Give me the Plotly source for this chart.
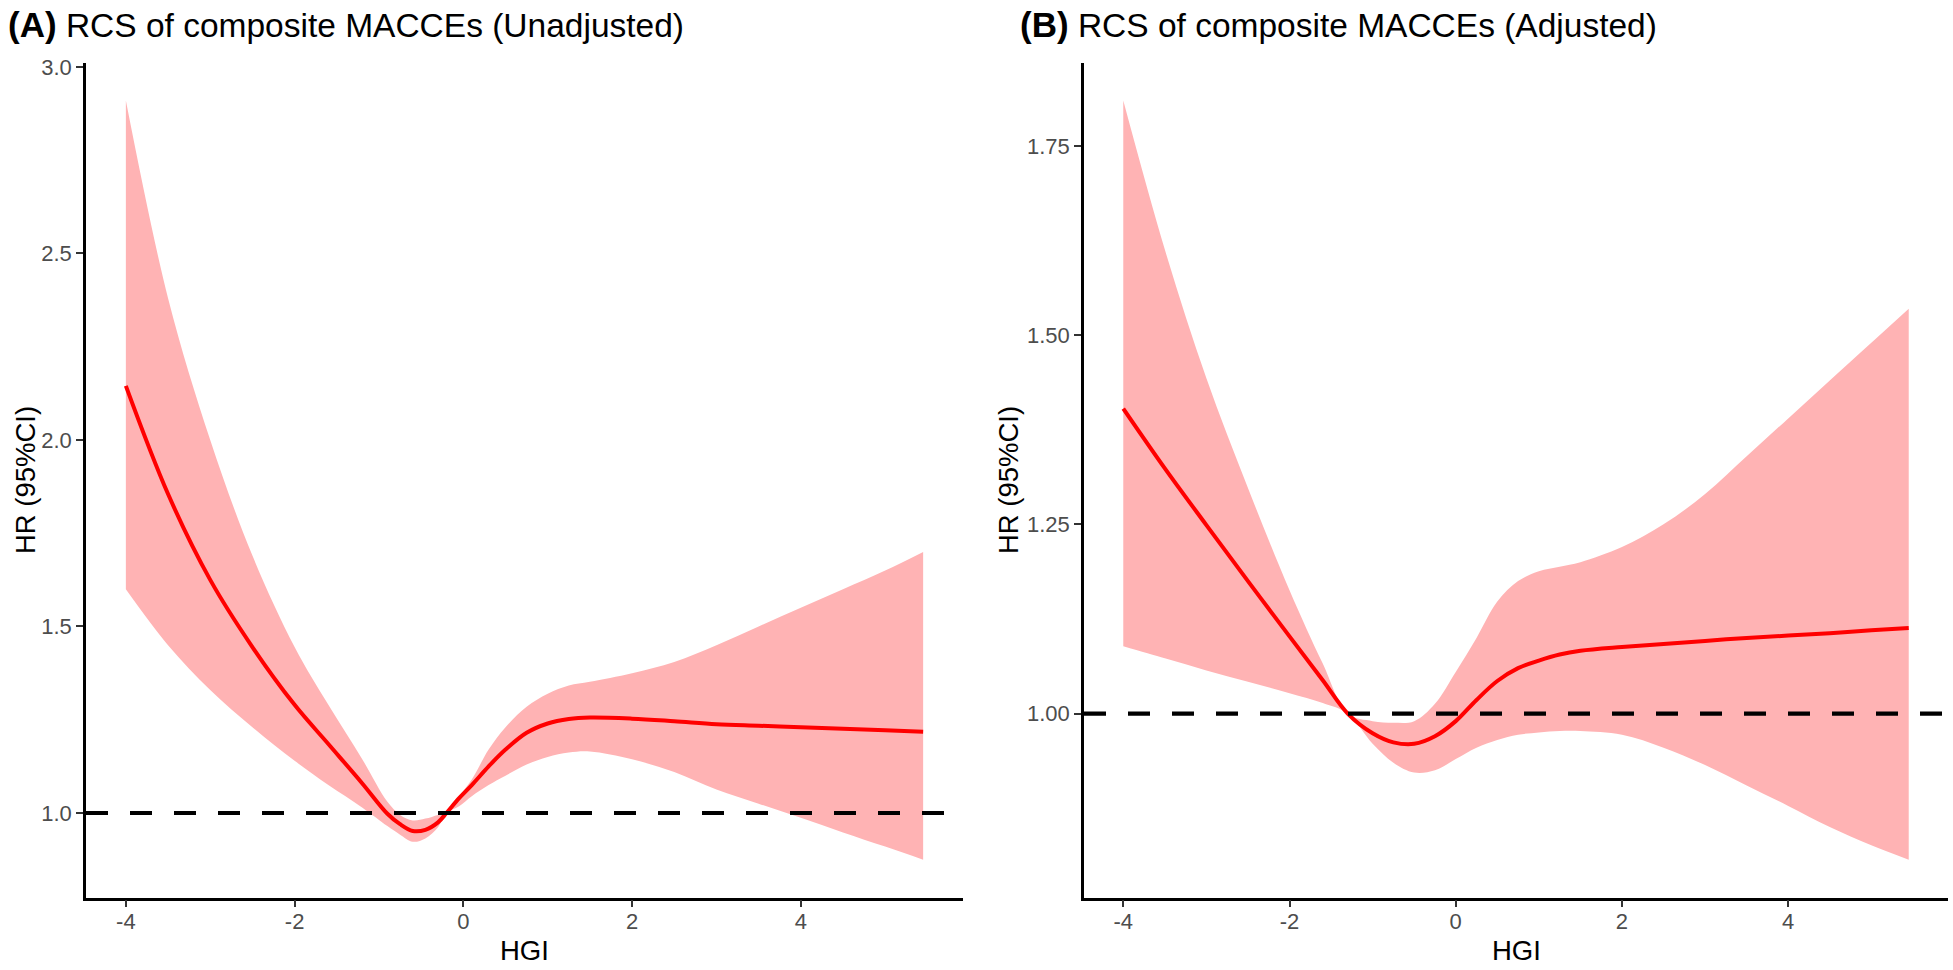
import plotly.graph_objects as go

# ---------------- data ----------------
hgi_a = [-4.0, -3.5, -3.0, -2.5, -2.0, -1.6, -1.2, -0.9, -0.75, -0.6, -0.45, -0.3, -0.2,
         -0.05, 0.1, 0.3, 0.5, 0.75, 1.0, 1.25, 1.5, 2.0, 2.5, 3.0, 3.5, 4.0, 4.5, 5.0, 5.45]
hr_a = [2.145, 1.855, 1.625, 1.445, 1.29, 1.185, 1.08, 0.998, 0.97, 0.952, 0.955, 0.975, 1.0,
        1.04, 1.075, 1.125, 1.17, 1.215, 1.24, 1.252, 1.256, 1.253, 1.246, 1.238, 1.234, 1.23,
        1.226, 1.222, 1.218]
upper_a = [2.91, 2.38, 2.00, 1.69, 1.445, 1.29, 1.145, 1.03, 0.995, 0.98, 0.985, 0.995, 1.0,
           1.045, 1.09, 1.17, 1.23, 1.285, 1.32, 1.342, 1.352, 1.375, 1.405, 1.45, 1.50, 1.55,
           1.60, 1.65, 1.70]
lower_a = [1.60, 1.45, 1.33, 1.23, 1.14, 1.075, 1.015, 0.965, 0.942, 0.923, 0.932, 0.962, 1.0,
           1.018, 1.045, 1.075, 1.10, 1.13, 1.15, 1.162, 1.165, 1.144, 1.11, 1.063, 1.025, 0.987,
           0.948, 0.91, 0.875]

hgi_b = [-4.0, -3.5, -3.0, -2.5, -2.0, -1.6, -1.3, -1.0, -0.75, -0.5, -0.25, 0.0, 0.25, 0.5,
         0.75, 1.0, 1.25, 1.5, 2.0, 2.5, 3.0, 3.5, 4.0, 4.5, 5.0, 5.45]
hr_b = [1.403, 1.324, 1.249, 1.175, 1.102, 1.044, 1.0, 0.974, 0.962, 0.96, 0.97, 0.99, 1.018,
        1.043, 1.06, 1.07, 1.078, 1.083, 1.088, 1.092, 1.096, 1.10, 1.103, 1.106, 1.11, 1.113]
upper_b = [1.81, 1.613, 1.443, 1.298, 1.163, 1.066, 1.0, 0.99, 0.988, 0.99, 1.013, 1.055, 1.10,
           1.148, 1.175, 1.188, 1.194, 1.20, 1.22, 1.25, 1.29, 1.34, 1.39, 1.44, 1.49, 1.535]
lower_b = [1.089, 1.073, 1.057, 1.042, 1.027, 1.014, 1.0, 0.96, 0.935, 0.922, 0.925, 0.94,
           0.955, 0.965, 0.972, 0.975, 0.977, 0.977, 0.972, 0.955, 0.932, 0.905, 0.878, 0.85,
           0.826, 0.807]

x_ticks = [-4, -2, 0, 2, 4]
x_tick_labels = ["-4", "-2", "0", "2", "4"]
y_ticks_a = [1.0, 1.5, 2.0, 2.5, 3.0]
y_ticks_b = [1.00, 1.25, 1.50, 1.75]
tags = ["(A)", "(B)"]
titles = ["RCS of composite MACCEs (Unadjusted)", "RCS of composite MACCEs (Adjusted)"]
x_title = "HGI"
y_title = "HR (95%CI)"
ref_hr = 1.0

# ---------------- styling ----------------
W, H = 1953, 970
FONT = "Liberation Sans, Arial, Helvetica, sans-serif"
RIBBON = "#FFB3B4"
LINE = "#FF0000"

fig = go.Figure()


def add_panel(xs, hr, lo, up, xa, ya):
    fig.add_trace(go.Scatter(x=xs, y=lo, mode="lines", line=dict(width=0, shape="spline", color=RIBBON),
                             xaxis=xa, yaxis=ya, hoverinfo="skip", showlegend=False))
    fig.add_trace(go.Scatter(x=xs, y=up, mode="lines", line=dict(width=0, shape="spline", color=RIBBON),
                             fill="tonexty", fillcolor=RIBBON, xaxis=xa, yaxis=ya,
                             hoverinfo="skip", showlegend=False))
    fig.add_trace(go.Scatter(x=xs, y=hr, mode="lines", line=dict(width=4, shape="spline", color=LINE),
                             xaxis=xa, yaxis=ya, showlegend=False))


add_panel(hgi_a, hr_a, lower_a, upper_a, "x", "y")
add_panel(hgi_b, hr_b, lower_b, upper_b, "x2", "y2")


def ggrange(vals_lo, vals_hi):
    lo, hi = min(vals_lo), max(vals_hi)
    pad = 0.05 * (hi - lo)
    return [lo - pad, hi + pad]


xr_a = ggrange(hgi_a, hgi_a)
xr_b = ggrange(hgi_b, hgi_b)
yr_a = ggrange(lower_a, upper_a)
yr_b = ggrange(lower_b, upper_b)

y_dom = [1 - 897 / H, 1 - 55 / H]
xd_a = [86 / W, 963 / W]
xd_b = [1084 / W, 1948 / W]

axis_common = dict(showline=True, linecolor="#000000", linewidth=2.6, ticks="outside",
                   ticklen=7, tickwidth=2.4, tickcolor="#333333", showgrid=False,
                   zeroline=False, tickfont=dict(family=FONT, size=22, color="#4D4D4D"))
xaxis_extra = dict(tickvals=x_ticks, ticktext=x_tick_labels, ticklabelstandoff=-5)

fig.update_layout(
    width=W, height=H, margin=dict(l=0, r=0, t=0, b=0),
    paper_bgcolor="white", plot_bgcolor="white", showlegend=False,
    font=dict(family=FONT),
    xaxis=dict(domain=xd_a, range=xr_a, anchor="y", **xaxis_extra, **axis_common),
    yaxis=dict(domain=y_dom, range=yr_a, tickvals=y_ticks_a, ticktext=[f"{v:.1f}" for v in y_ticks_a],
               anchor="x", **axis_common),
    xaxis2=dict(domain=xd_b, range=xr_b, anchor="y2", **xaxis_extra, **axis_common),
    yaxis2=dict(domain=y_dom, range=yr_b, tickvals=y_ticks_b, ticktext=[f"{v:.2f}" for v in y_ticks_b],
                anchor="x2", **axis_common),
)

# reference line HR = 1
for xr, yr in (("x", "y"), ("x2", "y2")):
    fig.add_shape(type="line", xref=f"{xr} domain", yref=yr, x0=0, x1=1, y0=ref_hr, y1=ref_hr,
                  line=dict(color="black", width=4.2, dash="22px,22px"), layer="above")

annots = []
# panel titles
for tag, txt, xpx in zip(tags, titles, (6, 1018)):
    annots.append(dict(text=f"<b><span style='font-size:35px'>{tag}</span></b> {txt}",
                       xref="paper", yref="paper", x=xpx / W, y=1 - 17 / H,
                       xanchor="left", yanchor="middle", showarrow=False,
                       font=dict(family=FONT, size=33.5, color="black")))
# axis titles
for xc in ((86 + 963) / 2, (1084 + 1948) / 2):
    annots.append(dict(text=x_title, xref="paper", yref="paper", x=xc / W, y=1 - 950 / H,
                       xanchor="center", yanchor="middle", showarrow=False,
                       font=dict(family=FONT, size=27.5, color="black")))
for xc in (25, 1008):
    annots.append(dict(text=y_title, xref="paper", yref="paper", x=xc / W, y=1 - 476 / H,
                       xanchor="center", yanchor="middle", showarrow=False, textangle=-90,
                       font=dict(family=FONT, size=27.5, color="black")))
fig.update_layout(annotations=annots)

fig.write_html("out.html", config={"displayModeBar": False},
               post_script="document.body.style.margin='0';document.body.style.overflow='hidden';")
